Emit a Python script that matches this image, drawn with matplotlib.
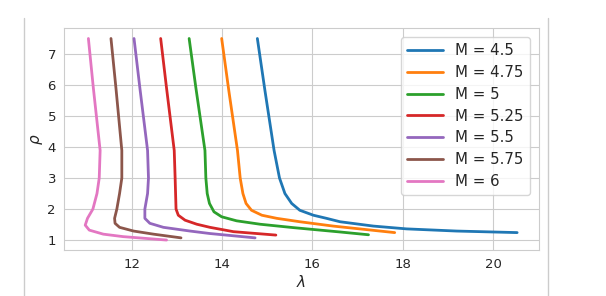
import numpy as np
import matplotlib
matplotlib.use("Agg")
import matplotlib.pyplot as plt
import seaborn as sns
from matplotlib.lines import Line2D

sns.set_style("whitegrid")

# (lambda, rho), from top (rho = 7.5) down to the tail
lam_45 = [14.78, 14.95, 15.15, 15.27, 15.39, 15.54, 15.72, 16.02, 16.31, 16.61, 17.35, 18.08, 19.19, 20.53]
rho_45 = [7.50, 5.80, 3.89, 3.00, 2.50, 2.18, 1.96, 1.80, 1.70, 1.59, 1.45, 1.36, 1.29, 1.24]

lam_475 = [13.99, 14.15, 14.34, 14.40, 14.46, 14.53, 14.65, 14.88, 15.21, 15.72, 16.46, 17.82]
rho_475 = [7.50, 5.80, 3.89, 3.00, 2.50, 2.18, 1.96, 1.80, 1.70, 1.59, 1.45, 1.24]

lam_5 = [13.27, 13.42, 13.62, 13.64, 13.67, 13.72, 13.82, 13.99, 14.32, 14.84, 15.58, 16.61, 17.24]
rho_5 = [7.50, 5.90, 3.89, 3.00, 2.50, 2.18, 1.91, 1.75, 1.62, 1.51, 1.40, 1.26, 1.17]

lam_525 = [12.64, 12.77, 12.94, 12.96, 12.98, 13.03, 13.18, 13.44, 13.73, 14.25, 15.19]
rho_525 = [7.50, 5.90, 3.89, 3.00, 2.00, 1.80, 1.64, 1.51, 1.41, 1.27, 1.16]

lam_55 = [12.05, 12.18, 12.35, 12.37, 12.35, 12.29, 12.29, 12.40, 12.70, 13.29, 13.73, 14.73]
rho_55 = [7.50, 5.90, 3.89, 3.00, 2.50, 2.00, 1.70, 1.54, 1.41, 1.29, 1.21, 1.07]

lam_575 = [11.54, 11.65, 11.78, 11.78, 11.73, 11.67, 11.62, 11.63, 11.73, 12.04, 12.48, 13.09]
rho_575 = [7.50, 5.90, 3.89, 3.00, 2.50, 2.00, 1.70, 1.54, 1.41, 1.29, 1.19, 1.07]

lam_6 = [11.04, 11.15, 11.30, 11.28, 11.23, 11.14, 11.02, 10.97, 11.06, 11.37, 11.81, 12.77]
rho_6 = [7.50, 5.90, 3.89, 3.00, 2.50, 2.00, 1.70, 1.48, 1.32, 1.19, 1.11, 1.00]

curves = [("M = 4.5", lam_45, rho_45), ("M = 4.75", lam_475, rho_475),
          ("M = 5", lam_5, rho_5), ("M = 5.25", lam_525, rho_525),
          ("M = 5.5", lam_55, rho_55), ("M = 5.75", lam_575, rho_575),
          ("M = 6", lam_6, rho_6)]

fig = plt.figure(figsize=(6.06, 2.96), dpi=100)
ax = fig.add_axes([0.105, 0.155, 0.784, 0.749])

for label, lam, rho in curves:
    ax.plot(lam, rho, linewidth=2, label=label)

ax.set_xlabel(r"$\lambda$", fontsize=11, labelpad=2)
ax.set_ylabel(r"$\rho$", fontsize=11, labelpad=2)
ax.tick_params(labelsize=9.5, pad=2)
ax.set_xticks([12, 14, 16, 18, 20])
ax.set_yticks([1, 2, 3, 4, 5, 6, 7])
ax.legend(fontsize=10.8, loc="upper right", handlelength=2.4, labelspacing=0.45,
          borderaxespad=0.6)

# notebook cell borders
fig.add_artist(Line2D([0.040, 0.040], [0.0, 0.94], color="#cccccc", linewidth=1))
fig.add_artist(Line2D([0.904, 0.904], [0.0, 0.94], color="#cccccc", linewidth=1))

fig.savefig("out.png", dpi=100)
